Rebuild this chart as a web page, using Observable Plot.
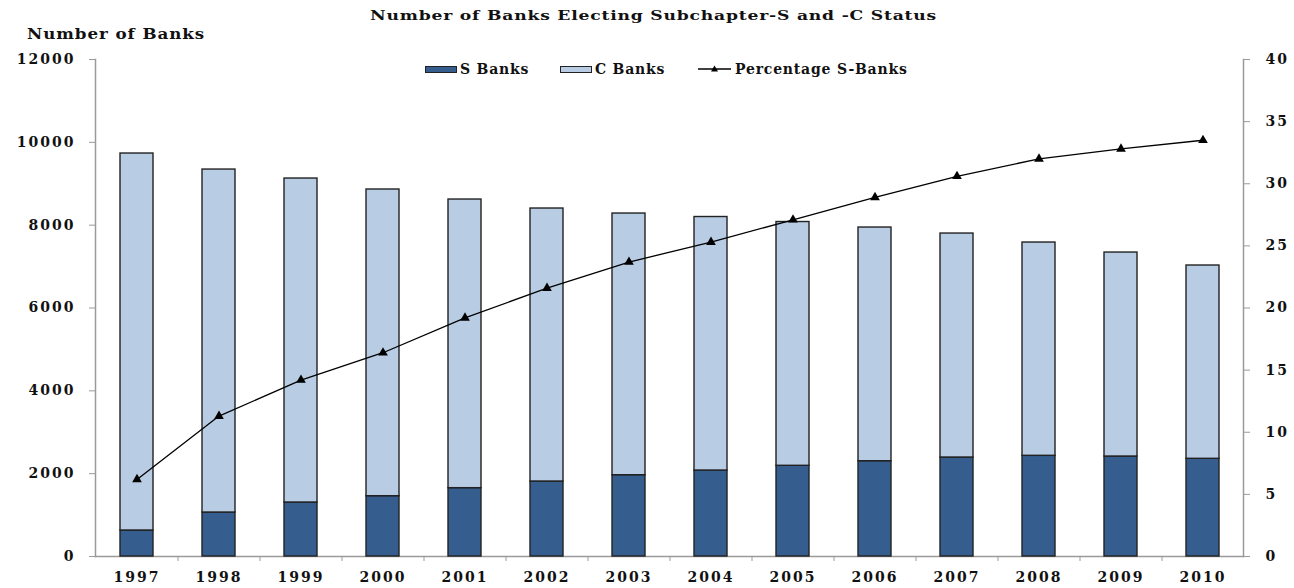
<!DOCTYPE html>
<html>
<head>
<meta charset="utf-8">
<script src="https://cdn.jsdelivr.net/npm/d3@7"></script>
<script src="https://cdn.jsdelivr.net/npm/@observablehq/plot@0.6"></script>
<style>
  body { margin: 0; background: #fff; }
  #wrap { position: relative; width: 1294px; height: 588px; overflow: hidden;
          font-family: "DejaVu Serif", "Liberation Serif", serif; font-weight: bold; color: #111; }
  #head { position: relative; height: 44px; }
  #title { position: absolute; left: 370px; top: 8px; white-space: nowrap; font-size: 13px; letter-spacing: 0.6px; transform: scaleX(1.32); transform-origin: left center; }
  #ylab { position: absolute; left: 27px; top: 26px; white-space: nowrap; font-size: 14px; letter-spacing: 0.8px; transform: scaleX(1.19); transform-origin: left center; }
  .leg { position: absolute; top: 60px; font-size: 14px; letter-spacing: 0.8px; display: flex; align-items: center; height: 18px; white-space: nowrap; }
  .sw { display: inline-block; width: 30px; height: 5px; border: 1px solid #222; margin-right: 3px; }
  svg text { letter-spacing: 2px; }
</style>
</head>
<body>
<div id="wrap">
  <div id="head">
    <div id="title">Number of Banks Electing Subchapter-S and -C Status</div>
    <div id="ylab">Number of Banks</div>
  </div>
  <div id="chart"></div>
  <div class="leg" style="left:425px"><span class="sw" style="background:#355e8f"></span>S Banks</div>
  <div class="leg" style="left:560px"><span class="sw" style="background:#b8cce4"></span>C Banks</div>
  <div class="leg" style="left:698px"><svg width="33" height="10" style="margin-right:4px"><line x1="0" y1="5" x2="33" y2="5" stroke="#000" stroke-width="1.3"/><path d="M16.5,1.5 L20,7.5 L13,7.5 Z" fill="#000"/></svg>Percentage S-Banks</div>
</div>
<script>
const years = [1997, 1998, 1999, 2000, 2001, 2002, 2003, 2004, 2005, 2006, 2007, 2008, 2009, 2010];
const sBanks = [628, 1062, 1304, 1456, 1650, 1811, 1963, 2076, 2190, 2301, 2390, 2431, 2414, 2359];
const cBanks = [9102, 8281, 7822, 7405, 6969, 6591, 6318, 6121, 5886, 5642, 5408, 5150, 4925, 4667];
const pctS = [6.2, 11.3, 14.2, 16.4, 19.2, 21.6, 23.7, 25.3, 27.1, 28.9, 30.6, 32.0, 32.8, 33.5];
const leftTicks = [0, 2000, 4000, 6000, 8000, 10000, 12000];
const rightTicks = [0, 5, 10, 15, 20, 25, 30, 35, 40];

const k = 12000 / 40; // maps the right (percentage) axis onto the left axis

const rows = years.flatMap((yr, i) => [
  {year: yr, type: "S Banks", value: sBanks[i]},
  {year: yr, type: "C Banks", value: cBanks[i]}
]);
const pctRows = years.map((yr, i) => ({year: yr, pct: pctS[i]}));

const font = {fontFamily: "DejaVu Serif, Liberation Serif, serif", fontSize: 14, fontWeight: "bold"};

const chart = Plot.plot({
  width: 1294,
  height: 544,
  marginLeft: 95,
  marginRight: 51,
  marginTop: 15,
  marginBottom: 32,
  style: {fontFamily: "DejaVu Serif, Liberation Serif, serif", fontSize: "14px", fontWeight: "bold", color: "#111", background: "#fff"},
  x: {type: "band", domain: years, paddingInner: 0.6, paddingOuter: 0.3, axis: null, label: null},
  y: {domain: [0, 12000], axis: null, label: null},
  color: {domain: ["S Banks", "C Banks"], range: ["#355e8f", "#b8cce4"]},
  marks: [
    Plot.frame({anchor: "left", stroke: "#9a9a9a", strokeWidth: 1.5}),
    Plot.frame({anchor: "right", stroke: "#9a9a9a", strokeWidth: 1.5}),
    Plot.frame({anchor: "bottom", stroke: "#9a9a9a", strokeWidth: 1.5}),
    Plot.barY(rows, Plot.stackY({x: "year", y: "value", fill: "type", stroke: "#222", strokeWidth: 1.4})),
    Plot.line(pctRows, {x: "year", y: d => d.pct * k, stroke: "#000", strokeWidth: 1.3}),
    Plot.dot(pctRows, {x: "year", y: d => d.pct * k, symbol: "triangle", r: 3.6, fill: "#000", stroke: "none"}),
    Plot.axisY({anchor: "left", label: null, ticks: leftTicks, tickSize: 6, tickPadding: 14, tickFormat: d => String(d), stroke: "#9a9a9a", fill: "#111", ...font}),
    Plot.axisY({anchor: "right", label: null, ticks: rightTicks.map(t => t * k), tickSize: 6, tickPadding: 16, tickFormat: d => String(Math.round(d / k)), stroke: "#9a9a9a", fill: "#111", ...font}),
    Plot.axisX({anchor: "bottom", label: null, ticks: years, tickSize: 0, tickPadding: 16, tickFormat: d => String(d), fill: "#111", ...font}),
    Plot.axisX({anchor: "bottom", label: null, ticks: years.slice(0, -1), tickSize: 5, tickFormat: () => "", dx: 41, stroke: "#9a9a9a"})
  ]
});
document.getElementById("chart").appendChild(chart);
</script>
</body>
</html>
